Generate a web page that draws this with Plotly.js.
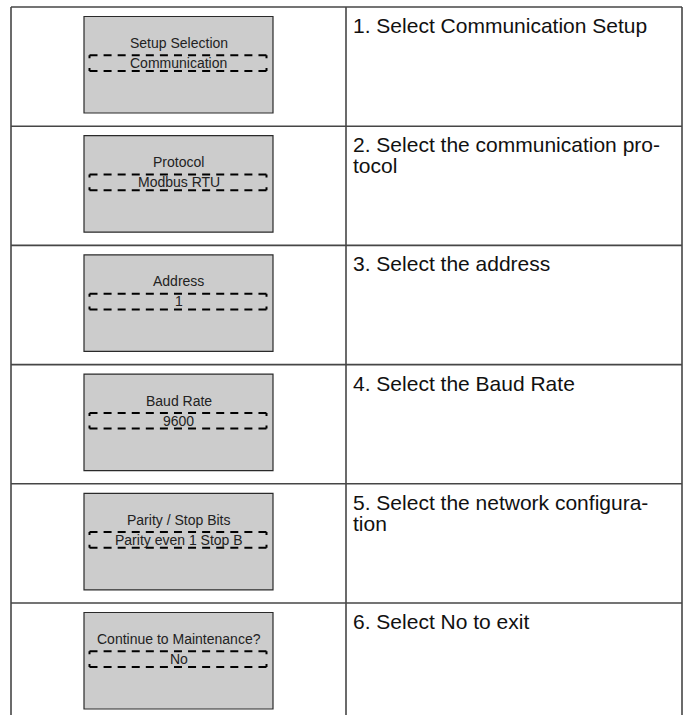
<!DOCTYPE html>
<html>
<head>
<meta charset="utf-8">
<script src="https://cdn.plot.ly/plotly-3.0.1.min.js"></script>
<style>html,body{margin:0;padding:0;background:#fff;}#chart{width:688px;height:715px;}</style>
</head>
<body>
<div id="chart"></div>
<script>
// ---- data ----
const screenTitles = ["Setup Selection", "Protocol", "Address", "Baud Rate", "Parity / Stop Bits", "Continue to Maintenance?"];
const screenValues = ["Communication", "Modbus RTU", "1", "9600", "Parity even 1 Stop B", "No"];
const stepLines = [
  ["1. Select Communication Setup"],
  ["2. Select the communication pro-", "tocol"],
  ["3. Select the address"],
  ["4. Select the Baud Rate"],
  ["5. Select the network configura-", "tion"],
  ["6. Select No to exit"]
];

// ---- layout constants ----
const W = 688, H = 715;
const tableTop = 7, rowH = 119.2;
const xLeft = 11, xMid = 346, xRight = 682;
const boxX0 = 84, boxX1 = 273, boxTopOff = 9.5, boxBotOff = 106;
const dashX0 = 89.5, dashX1 = 266.5, dashTopRel = 38.8, dashBotRel = 54.5;
const lineCol = "#464646";
const font = "Liberation Sans";

const shapes = [];
const annotations = [];
const n = screenTitles.length;

// table lines
for (let i = 0; i < n; i++) {
  const y = tableTop + i * rowH;
  shapes.push({type: "line", xref: "x", yref: "y", x0: xLeft, x1: xRight, y0: y, y1: y,
    line: {color: lineCol, width: 1.6}});
}
[xLeft, xMid, xRight].forEach(x => {
  shapes.push({type: "line", xref: "x", yref: "y", x0: x, x1: x, y0: tableTop, y1: H,
    line: {color: lineCol, width: 1.6}});
});

function seg(x0, y0, x1, y1, dash) {
  shapes.push({type: "line", xref: "x", yref: "y", x0: x0, y0: y0, x1: x1, y1: y1,
    line: {color: "#000000", width: 2, dash: dash}, layer: "above"});
}

for (let i = 0; i < n; i++) {
  const rt = tableTop + i * rowH;
  const bt = rt + boxTopOff;
  // grey screen
  shapes.push({type: "rect", xref: "x", yref: "y", x0: boxX0, x1: boxX1, y0: bt, y1: rt + boxBotOff,
    fillcolor: "#cccccc", line: {color: "#2a2a2a", width: 1.2}, layer: "below"});
  // dashed selection box, drawn side by side so every corner gets a dash
  const dy0 = bt + dashTopRel, dy1 = bt + dashBotRel;
  const hDash = "8px,6.08px";
  const vDash = "3px," + (dy1 - dy0 - 6).toFixed(2) + "px";
  seg(dashX0, dy0, dashX1, dy0, hDash);
  seg(dashX0, dy1, dashX1, dy1, hDash);
  seg(dashX0, dy0, dashX0, dy1, vDash);
  seg(dashX1, dy0, dashX1, dy1, vDash);
  const cx = (boxX0 + boxX1) / 2;
  annotations.push({x: cx, y: bt + 26.5, xref: "x", yref: "y", text: screenTitles[i], showarrow: false,
    xanchor: "center", yanchor: "middle", font: {family: font, size: 14, color: "#222222"}});
  annotations.push({x: cx, y: bt + 46.5, xref: "x", yref: "y", text: screenValues[i], showarrow: false,
    xanchor: "center", yanchor: "middle", font: {family: font, size: 14, color: "#222222"}});
  // step description
  stepLines[i].forEach((t, j) => {
    annotations.push({x: 351, y: rt + 18.5 + j * 21, xref: "x", yref: "y", text: t, showarrow: false,
      xanchor: "left", yanchor: "middle", font: {family: font, size: 21, color: "#111111"}});
  });
}

const layout = {
  width: W, height: H,
  margin: {l: 0, r: 0, t: 0, b: 0},
  paper_bgcolor: "#ffffff", plot_bgcolor: "#ffffff",
  font: {family: font},
  xaxis: {range: [0, W], visible: false, fixedrange: true},
  yaxis: {range: [H, 0], visible: false, fixedrange: true},
  showlegend: false,
  shapes: shapes,
  annotations: annotations
};

Plotly.newPlot("chart", [{x: [], y: [], type: "scatter", mode: "markers", hoverinfo: "skip"}], layout,
  {staticPlot: true, displayModeBar: false});
</script>
</body>
</html>
